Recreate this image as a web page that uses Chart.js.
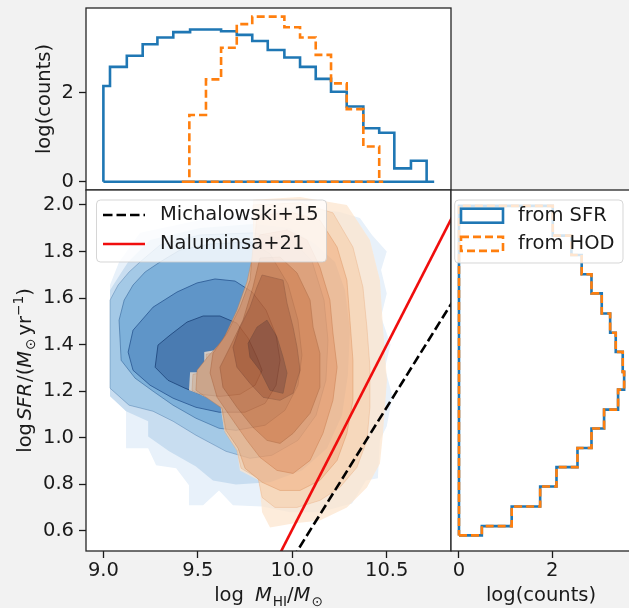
<!DOCTYPE html>
<html>
<head>
<meta charset="utf-8">
<title>HI mass vs SFR</title>
<script src="https://cdn.jsdelivr.net/npm/chart.js@4.4.0/dist/chart.umd.min.js"></script>
<style>
  html, body { margin: 0; padding: 0; background: #f2f2f2; }
  #fig { position: relative; width: 629px; height: 608px; overflow: hidden; background: #f2f2f2; }
  #fig canvas { position: absolute; }
</style>
</head>
<body>
<div id="fig">
  <canvas id="histTop" width="453" height="192" style="left:0;top:0"></canvas>
  <canvas id="main" width="453" height="420" style="left:0;top:188px"></canvas>
  <canvas id="histRight" width="182" height="420" style="left:449px;top:188px"></canvas>
</div>
<script>
// log M_HI histogram (top panel): bin edges and log(counts)
const himEdgesSfr = [9.000, 9.035, 9.124, 9.208, 9.286, 9.370, 9.459, 9.543, 9.623, 9.706, 9.788,
  9.870, 9.958, 10.041, 10.124, 10.205, 10.288, 10.376, 10.460, 10.540, 10.628, 10.711, 10.751];
const himCountsSfr = [2.15, 2.58, 2.83, 3.09, 3.24, 3.36, 3.42, 3.42, 3.38, 3.30, 3.16,
  2.96, 2.79, 2.58, 2.31, 2.02, 1.69, 1.20, 1.10, 0.30, 0.47, 0];
const himEdgesHod = [9.415, 9.455, 9.543, 9.623, 9.706, 9.788, 9.870, 9.958, 10.041,
  10.124, 10.205, 10.288, 10.376, 10.460, 10.481];
const himCountsHod = [0, 1.50, 2.30, 3.01, 3.54, 3.71, 3.71, 3.47, 3.24, 2.85, 2.21, 1.63, 0.79, 0];

// log SFR histogram (right panel)
const sfrEdges = [0.581, 0.621, 0.705, 0.791, 0.874, 0.956, 1.040, 1.121, 1.207, 1.283,
  1.369, 1.451, 1.534, 1.620, 1.702, 1.785, 1.868, 1.951, 1.996];
const sfrCountsSfr = [0.49, 1.13, 1.74, 2.09, 2.54, 2.84, 3.11, 3.41, 3.54, 3.51,
  3.36, 3.24, 3.06, 2.84, 2.63, 2.41, 2.01, 2.01];
const sfrCountsHod = [0.49, 1.13, 1.74, 2.09, 2.54, 2.84, 3.11, 3.41, 3.54, 3.51,
  3.36, 3.24, 3.06, 2.84, 2.63, 2.41, 2.01, 2.01];

// tick values
const himTicks = [9.0, 9.5, 10.0, 10.5];
const sfrTicks = [0.6, 0.8, 1.0, 1.2, 1.4, 1.6, 1.8, 2.0];
const countTicks = [0, 2];

// literature relations, two end points each (log M_HI, log SFR)
const michalowski = [[10.00, 0.48], [10.86, 1.60]];
const naluminsa = [[9.92, 0.48], [10.86, 1.97]];

// density levels of the SFR-based sample, outermost first
const sfrContours = [
  [[9.035,1.656],[9.083,1.755],[9.194,1.880],[9.512,1.935],[9.840,1.970],[10.041,1.991],
   [10.252,1.970],[10.358,1.944],[10.422,1.871],[10.500,1.800],[10.470,1.720],[10.500,1.620],[10.470,1.520],
   [10.520,1.400],[10.490,1.300],[10.530,1.180],[10.500,1.050],[10.464,0.989],[10.453,0.826],[10.390,0.817],[10.316,0.718],
   [10.146,0.680],[9.988,0.680],[9.840,0.705],[9.686,0.710],[9.612,0.774],[9.528,0.710],[9.453,0.710],
   [9.453,0.796],[9.385,0.869],[9.279,0.882],[9.237,0.955],[9.120,0.955],[9.120,1.114],[9.035,1.204]],
  [[9.035,1.634],[9.083,1.695],[9.131,1.755],[9.247,1.849],[9.512,1.901],[9.792,1.918],[9.988,1.901],
   [10.120,1.832],[10.226,1.755],[10.279,1.634],[10.305,1.462],[10.294,1.269],[10.263,1.097],[10.184,0.955],
   [10.051,0.860],[9.882,0.809],[9.702,0.800],[9.580,0.817],[9.490,0.877],[9.348,0.942],[9.237,1.006],
   [9.237,1.071],[9.120,1.114],[9.035,1.178]],
  [[9.035,1.591],[9.078,1.656],[9.136,1.712],[9.194,1.755],[9.300,1.828],[9.512,1.871],[9.792,1.880],
   [9.998,1.849],[10.104,1.760],[10.168,1.591],[10.189,1.419],[10.178,1.247],[10.126,1.097],[10.030,0.989],
   [9.892,0.925],[9.776,0.912],[9.649,0.942],[9.490,1.011],[9.369,1.071],[9.263,1.114],[9.136,1.140],[9.035,1.213]],
  [[9.083,1.505],[9.110,1.591],[9.157,1.656],[9.221,1.712],[9.300,1.755],[9.405,1.806],[9.565,1.832],
   [9.776,1.841],[9.882,1.790],[9.977,1.660],[10.030,1.505],[10.051,1.355],[10.030,1.226],[9.961,1.118],
   [9.856,1.054],[9.702,1.032],[9.612,1.041],[9.490,1.084],[9.369,1.140],[9.263,1.200],[9.168,1.256],[9.094,1.333]],
  [[9.131,1.368],[9.157,1.462],[9.263,1.561],[9.390,1.626],[9.496,1.665],[9.591,1.682],[9.697,1.673],
   [9.787,1.626],[9.861,1.548],[9.914,1.441],[9.935,1.333],[9.914,1.226],[9.856,1.148],[9.750,1.110],
   [9.612,1.110],[9.490,1.131],[9.369,1.170],[9.247,1.226],[9.157,1.290]],
  [[9.274,1.303],[9.289,1.398],[9.353,1.441],[9.443,1.497],[9.528,1.523],[9.617,1.523],[9.707,1.492],
   [9.766,1.428],[9.813,1.346],[9.840,1.290],[9.803,1.226],[9.723,1.187],[9.617,1.178],[9.512,1.187],
   [9.432,1.213],[9.342,1.247]]
];

// density levels of the HOD-based sample, outermost first
const hodContours = [
  [[9.792,2.022],[10.041,2.034],[10.289,2.000],[10.411,1.849],[10.464,1.677],[10.480,1.475],[10.501,1.247],
   [10.480,1.019],[10.464,0.890],[10.395,0.787],[10.289,0.701],[10.146,0.645],[10.004,0.632],[9.882,0.615],
   [9.840,0.680],[9.824,0.817],[9.723,0.860],[9.707,0.946],[9.639,1.032],[9.617,1.153],[9.453,1.204],
   [9.459,1.282],[9.534,1.282],[9.534,1.368],[9.649,1.385],[9.739,1.514],[9.792,1.677]],
  [[9.792,2.000],[10.041,2.009],[10.215,1.966],[10.321,1.819],[10.374,1.647],[10.395,1.475],[10.411,1.303],
   [10.411,1.131],[10.395,0.989],[10.342,0.873],[10.252,0.787],[10.146,0.731],[10.025,0.701],[9.908,0.701],
   [9.840,0.744],[9.819,0.826],[9.729,0.869],[9.707,0.946],[9.644,1.024],[9.623,1.144],[9.469,1.204],
   [9.474,1.273],[9.544,1.282],[9.544,1.359],[9.660,1.376],[9.750,1.505],[9.803,1.669]],
  [[9.813,1.957],[10.004,1.966],[10.146,1.935],[10.237,1.819],[10.289,1.677],[10.305,1.505],[10.321,1.333],
   [10.321,1.161],[10.289,1.019],[10.237,0.903],[10.146,0.817],[10.041,0.774],[9.935,0.774],[9.840,0.809],
   [9.750,0.869],[9.713,0.955],[9.649,1.032],[9.628,1.127],[9.490,1.204],[9.496,1.290],[9.555,1.350],
   [9.633,1.419],[9.707,1.548],[9.760,1.669],[9.797,1.806]],
  [[9.829,1.871],[9.972,1.892],[10.078,1.849],[10.146,1.733],[10.199,1.591],[10.215,1.450],[10.237,1.303],
   [10.215,1.161],[10.162,1.019],[10.094,0.903],[10.004,0.847],[9.919,0.860],[9.829,0.916],[9.760,0.989],
   [9.686,1.075],[9.602,1.174],[9.565,1.278],[9.580,1.363],[9.655,1.450],[9.723,1.561],[9.776,1.677],[9.792,1.819]],
  [[9.829,1.772],[9.935,1.776],[10.025,1.708],[10.094,1.591],[10.110,1.475],[10.146,1.363],[10.146,1.217],
   [10.094,1.105],[10.004,1.019],[9.935,0.976],[9.866,0.989],[9.792,1.045],[9.707,1.131],[9.633,1.217],
   [9.617,1.303],[9.670,1.389],[9.739,1.505],[9.792,1.647]],
  [[9.840,1.699],[9.951,1.677],[9.972,1.578],[10.004,1.475],[10.025,1.389],[10.041,1.290],[10.004,1.191],
   [9.935,1.161],[9.845,1.174],[9.776,1.234],[9.707,1.303],[9.686,1.389],[9.723,1.475],[9.776,1.561],[9.813,1.647]],
  [[9.866,1.505],[9.919,1.432],[9.951,1.346],[9.972,1.278],[9.951,1.191],[9.882,1.204],[9.829,1.290],
   [9.776,1.346],[9.766,1.406],[9.813,1.475]]
];

const blueFills = ['#e8f1fa', '#c8ddf0', '#a4c9e6', '#7eb1da', '#5f95c8', '#4a7bb1'];
const blueEdges = [null, null, 'rgba(45,95,150,0.35)', 'rgba(45,95,150,0.55)', 'rgba(35,80,140,0.75)', 'rgba(30,70,125,0.85)'];
const orangeFills = ['#fde6cf', '#fbd0a8', '#f7b37f', '#f1965a', '#e47a38', '#cc5f22', '#a3461a'];
const orangeEdges = [null, 'rgba(225,130,60,0.3)', 'rgba(215,115,45,0.45)', 'rgba(205,100,35,0.55)',
  'rgba(190,90,30,0.65)', 'rgba(170,75,25,0.7)', 'rgba(140,60,20,0.75)'];

const ink = '#1a1a1a';
const fontSize = 19.5;
const fontCss = fontSize + 'px "DejaVu Sans"';
const blue = '#1f77b4';
const orange = '#ff7f0e';

Chart.defaults.font.family = '"DejaVu Sans"';
Chart.defaults.font.size = fontSize;
Chart.defaults.color = ink;

// closed step outline of a histogram (vertical = counts on x)
function stepOutline(edges, counts, vertical) {
  const pts = [[edges[0], 0]];
  counts.forEach((c, i) => { pts.push([edges[i], c], [edges[i + 1], c]); });
  pts.push([edges[edges.length - 1], 0], [edges[0], 0]);
  return pts.map(([e, c]) => vertical ? { x: c, y: e } : { x: e, y: c });
}

function fixedTicks(values) {
  return scale => { scale.ticks = values.map(v => ({ value: v })); };
}

const tickGrid = { drawOnChartArea: false, drawTicks: true, tickLength: 7, tickWidth: 1.3, color: ink };

// white axes background and black frame
const frame = {
  id: 'frame',
  beforeDraw(chart) {
    const { ctx, chartArea: a } = chart;
    ctx.save();
    ctx.fillStyle = '#ffffff';
    ctx.fillRect(a.left, a.top, a.right - a.left, a.bottom - a.top);
    ctx.restore();
  },
  afterDraw(chart) {
    const { ctx, chartArea: a } = chart;
    ctx.save();
    ctx.strokeStyle = '#262626';
    ctx.lineWidth = 1.3;
    ctx.strokeRect(a.left, a.top, a.right - a.left, a.bottom - a.top);
    ctx.restore();
  }
};

// filled density contours, drawn level by level on a layer then composited
const contourLayers = {
  id: 'contourLayers',
  beforeDatasetsDraw(chart) {
    const { ctx, chartArea: a, scales: { x, y } } = chart;
    const paint = (levels, fills, edges, alpha) => {
      const layer = document.createElement('canvas');
      layer.width = chart.width;
      layer.height = chart.height;
      const lc = layer.getContext('2d');
      levels.forEach((poly, i) => {
        lc.beginPath();
        poly.forEach(([vx, vy], j) => {
          const px = x.getPixelForValue(vx);
          const py = y.getPixelForValue(vy);
          if (j) lc.lineTo(px, py); else lc.moveTo(px, py);
        });
        lc.closePath();
        lc.fillStyle = fills[i];
        lc.fill();
        if (edges[i]) {
          lc.strokeStyle = edges[i];
          lc.lineWidth = 1;
          lc.stroke();
        }
      });
      ctx.save();
      ctx.beginPath();
      ctx.rect(a.left, a.top, a.right - a.left, a.bottom - a.top);
      ctx.clip();
      ctx.globalAlpha = alpha;
      ctx.drawImage(layer, 0, 0, chart.width, chart.height);
      ctx.restore();
    };
    paint(sfrContours, blueFills, blueEdges, 1);
    paint(hodContours, orangeFills, orangeEdges, 0.75);
  }
};

// text with italic pieces and sub/superscripts
function drawMath(ctx, parts, x, y, angle) {
  const fontFor = p => (p.it ? 'italic ' : '') + ((p.sub || p.sup) ? fontSize * 0.7 : fontSize) + 'px "DejaVu Sans"';
  ctx.save();
  const widths = parts.map(p => {
    if (p.gap) return p.gap;
    ctx.font = fontFor(p);
    return ctx.measureText(p.t).width + (p.it ? 1 : 0);
  });
  const total = widths.reduce((s, w) => s + w, 0);
  ctx.translate(x, y);
  ctx.rotate(angle);
  ctx.fillStyle = ink;
  ctx.textBaseline = 'alphabetic';
  ctx.textAlign = 'left';
  let cx = -total / 2;
  parts.forEach((p, i) => {
    if (!p.gap) {
      ctx.font = fontFor(p);
      const dy = p.sub ? fontSize * 0.22 : p.sup ? -fontSize * 0.42 : 0;
      ctx.fillText(p.t, cx, dy);
    }
    cx += widths[i];
  });
  ctx.restore();
}

const xTitle = [{ t: 'log' }, { gap: 11 }, { t: 'M', it: true }, { t: 'HI', sub: true }, { t: '/' },
  { t: 'M', it: true }, { t: '⊙', sub: true }];
const yTitle = [{ t: 'log' }, { gap: 3 }, { t: 'SFR', it: true }, { t: '/(' }, { t: 'M', it: true },
  { t: '⊙', sub: true }, { gap: 3 }, { t: 'yr' }, { t: '−1', sup: true }, { t: ')' }];

const mathTitles = {
  id: 'mathTitles',
  afterDraw(chart) {
    const { ctx, chartArea: a } = chart;
    drawMath(ctx, xTitle, (a.left + a.right) / 2, chart.height - 6.6, 0);
    drawMath(ctx, yTitle, 31, (a.top + a.bottom) / 2, -Math.PI / 2);
  }
};

// legend for the relation lines, upper left of the main panel
const lineLegend = {
  id: 'lineLegend',
  afterDraw(chart) {
    const { ctx, chartArea: a } = chart;
    const bx = a.left + 10.5, by = a.top + 10, bw = 230, bh = 62;
    ctx.save();
    ctx.beginPath();
    ctx.roundRect(bx, by, bw, bh, 4);
    ctx.fillStyle = 'rgba(255,255,255,0.8)';
    ctx.fill();
    ctx.strokeStyle = 'rgba(204,204,204,0.8)';
    ctx.lineWidth = 1;
    ctx.stroke();
    chart.data.datasets.forEach((ds, i) => {
      const ry = by + 15 + i * 29;
      ctx.beginPath();
      ctx.setLineDash(ds.borderDash || []);
      ctx.strokeStyle = ds.borderColor;
      ctx.lineWidth = ds.borderWidth;
      ctx.moveTo(bx + 6.5, ry);
      ctx.lineTo(bx + 48.5, ry);
      ctx.stroke();
      ctx.setLineDash([]);
      ctx.fillStyle = ink;
      ctx.font = fontCss;
      ctx.textBaseline = 'middle';
      ctx.fillText(ds.label, bx + 63.5, ry);
    });
    ctx.restore();
  }
};

// legend with outline patches, top of the right panel
const histLegend = {
  id: 'histLegend',
  afterDraw(chart) {
    const { ctx, chartArea: a } = chart;
    const bx = a.left + 3.7, by = a.top + 10, bw = 168.3, bh = 63;
    ctx.save();
    ctx.beginPath();
    ctx.roundRect(bx, by, bw, bh, 4);
    ctx.fillStyle = 'rgba(255,255,255,0.8)';
    ctx.fill();
    ctx.strokeStyle = 'rgba(204,204,204,0.8)';
    ctx.lineWidth = 1;
    ctx.stroke();
    chart.data.datasets.forEach((ds, i) => {
      const ry = by + 15.7 + i * 28.2;
      ctx.setLineDash(ds.borderDash || []);
      ctx.strokeStyle = ds.borderColor;
      ctx.lineWidth = ds.borderWidth;
      ctx.strokeRect(a.left + 10, ry - 7, 42, 14);
      ctx.setLineDash([]);
      ctx.fillStyle = ink;
      ctx.font = fontCss;
      ctx.textBaseline = 'middle';
      ctx.fillText(ds.label, a.left + 67, ry);
    });
    ctx.restore();
  }
};

// step histogram; lower order is painted on top
function histDataset(label, points, color, dash, order) {
  return {
    label, data: points, showLine: true, fill: false, pointRadius: 0, order,
    borderColor: color, borderWidth: 2.6, borderDash: dash, tension: 0, clip: 0
  };
}

// top panel: log M_HI distribution
new Chart(document.getElementById('histTop'), {
  type: 'scatter',
  data: {
    datasets: [
      histDataset('from SFR', stepOutline(himEdgesSfr, himCountsSfr, false), blue, [], 2),
      histDataset('from HOD', stepOutline(himEdgesHod, himCountsHod, false), orange, [8, 4], 1)
    ]
  },
  options: {
    responsive: false, animation: false, events: [],
    layout: { autoPadding: false, padding: { top: 8, right: 2, bottom: 2, left: 0 } },
    plugins: { legend: { display: false }, tooltip: { enabled: false } },
    scales: {
      x: { type: 'linear', display: false, min: 8.908, max: 10.840 },
      y: {
        type: 'linear', min: -0.187, max: 3.903,
        afterBuildTicks: fixedTicks(countTicks),
        afterFit(s) { s.width = 86; s.paddingTop = 0; s.paddingBottom = 0; },
        ticks: { autoSkip: false, padding: 5, color: ink, callback: v => String(v) },
        grid: tickGrid, border: { display: false },
        title: { display: true, text: 'log(counts)', color: ink, padding: { top: 33, bottom: 0 } }
      }
    }
  },
  plugins: [frame]
});

// main panel: log SFR vs log M_HI
new Chart(document.getElementById('main'), {
  type: 'scatter',
  data: {
    datasets: [
      {
        label: 'Michalowski+15', data: michalowski.map(([x, y]) => ({ x, y })),
        showLine: true, pointRadius: 0, borderColor: '#000000', borderWidth: 2.6, borderDash: [9.5, 4], clip: 0
      },
      {
        label: 'Naluminsa+21', data: naluminsa.map(([x, y]) => ({ x, y })),
        showLine: true, pointRadius: 0, borderColor: '#f00d0d', borderWidth: 2.6, clip: 0
      }
    ]
  },
  options: {
    responsive: false, animation: false, events: [],
    layout: { autoPadding: false, padding: { top: 2, right: 2, bottom: 0, left: 0 } },
    plugins: { legend: { display: false }, tooltip: { enabled: false } },
    scales: {
      x: {
        type: 'linear', min: 8.908, max: 10.840,
        afterBuildTicks: fixedTicks(himTicks),
        afterFit(s) { s.height = 57; s.paddingLeft = 0; s.paddingRight = 0; },
        ticks: { autoSkip: false, padding: 1, maxRotation: 0, color: ink, callback: v => v.toFixed(1) },
        grid: tickGrid, border: { display: false }
      },
      y: {
        type: 'linear', min: 0.514, max: 2.064,
        afterBuildTicks: fixedTicks(sfrTicks),
        afterFit(s) { s.width = 86; s.paddingTop = 0; s.paddingBottom = 0; },
        ticks: { autoSkip: false, padding: 5, color: ink, callback: v => v.toFixed(1) },
        grid: tickGrid, border: { display: false }
      }
    }
  },
  plugins: [frame, contourLayers, mathTitles, lineLegend]
});

// right panel: log SFR distribution
new Chart(document.getElementById('histRight'), {
  type: 'scatter',
  data: {
    datasets: [
      histDataset('from SFR', stepOutline(sfrEdges, sfrCountsSfr, true), blue, [], 2),
      histDataset('from HOD', stepOutline(sfrEdges, sfrCountsHod, true), orange, [8, 4], 1)
    ]
  },
  options: {
    responsive: false, animation: false, events: [],
    layout: { autoPadding: false, padding: { top: 2, right: 0, bottom: 0, left: 2 } },
    plugins: { legend: { display: false }, tooltip: { enabled: false } },
    scales: {
      x: {
        type: 'linear', min: -0.171, max: 3.687,
        afterBuildTicks: fixedTicks(countTicks),
        afterFit(s) { s.height = 57; s.paddingLeft = 0; s.paddingRight = 0; },
        ticks: { autoSkip: false, padding: 1, maxRotation: 0, color: ink, callback: v => String(v) },
        grid: tickGrid, border: { display: false },
        title: { display: true, text: 'log(counts)', color: ink, padding: { top: 0, bottom: 0 } }
      },
      y: { type: 'linear', display: false, min: 0.514, max: 2.064 }
    }
  },
  plugins: [frame, histLegend]
});
</script>
</body>
</html>
